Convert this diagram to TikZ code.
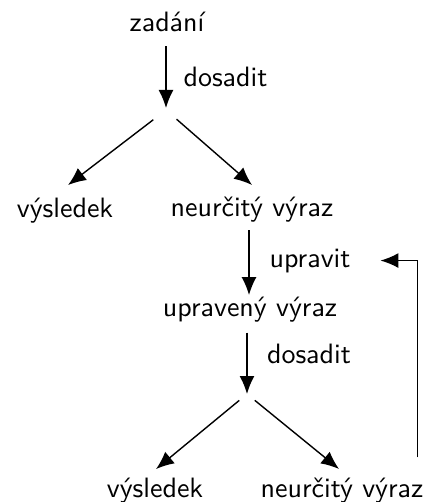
\documentclass[tikz,border=0pt]{standalone}
\usepackage{fontspec}
\newfontfamily\lmsten{lmsans10-regular.otf}
\usetikzlibrary{arrows.meta}
\tikzset{
  lbl/.style={inner sep=0pt, outer sep=0pt, anchor=base, font=\lmsten\fontsize{14}{17}\selectfont},
  arr/.style={line width=0.7pt, -{Latex[length=9pt,width=7.5pt]}},
}
\begin{document}
\begin{tikzpicture}[x=0.5pt,y=-0.5pt]
\useasboundingbox (0,0) rectangle (428,502);
% nodes
\node[lbl] (zad) at (167,32) {zadání};
\node[lbl] (dos1) at (225.5,87) {dosadit};
\coordinate (s1) at (166,110);
\node[lbl] (vys1) at (65,217) {výsledek};
\node[lbl] (neu1) at (252,216) {neurčitý výraz};
\node[lbl] (upr2) at (310,267) {upravit};
\node[lbl] (upr) at (250,316) {upravený výraz};
\node[lbl] (dos2) at (309,363) {dosadit};
\coordinate (s2) at (247,394);
\node[lbl] (vys2) at (155,497) {výsledek};
\node[lbl] (neu2) at (342,497) {neurčitý výraz};
% connectors
\draw[arr, shorten <=7pt, shorten >=1pt] (zad.south -| s1) -- (s1);
\draw[arr, shorten <=8pt] (s1) -- ([shift={(3,-12.5)}]vys1.north);
\draw[arr, shorten <=7pt] (s1) -- ([shift={(0,-11.5)}]neu1.north);
\draw[arr] ([shift={(-3,8.5)}]neu1.south) -- ([shift={(-1,-1.5)}]upr.north);
\draw[arr, shorten <=5.5pt] (upr.south -| s2) -- (s2);
\draw[arr, shorten <=5pt] (s2) -- ([shift={(1,-8.5)}]vys2.north);
\draw[arr, shorten <=5pt] (s2) -- ([shift={(-3,-8.5)}]neu2.north);
\draw[arr] ([shift={(-6,-20)}]neu2.north east) |- ([xshift=15pt]upr2.east);
\end{tikzpicture}
\end{document}
